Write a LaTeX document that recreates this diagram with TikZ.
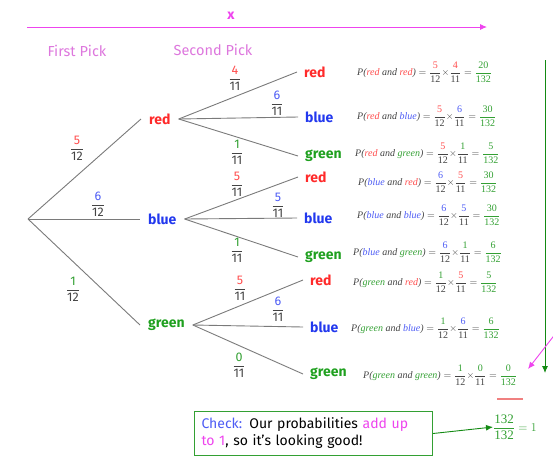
\documentclass[tikz,border=0pt]{standalone}
\usepackage{fontspec}
\usepackage{amsmath}
\setmainfont{Fira Sans}
\newfontfamily\eqfont{Liberation Serif}
\usetikzlibrary{arrows.meta}
\definecolor{cr}{HTML}{FF2A2A}
\definecolor{cb}{HTML}{2238EE}
\definecolor{cg}{HTML}{1FA01F}
\definecolor{lr}{HTML}{FF4C4C}
\definecolor{lb}{HTML}{4D5CF5}
\definecolor{lg}{HTML}{33A033}
\definecolor{tgray}{HTML}{444444}
\definecolor{lgray}{HTML}{7A7A7A}
\definecolor{mag}{HTML}{EE44EE}
\definecolor{hdr}{HTML}{DD77DD}
\definecolor{dgreen}{HTML}{138A13}
\definecolor{salmon}{HTML}{F08080}
\newcommand\tfr[3]{$\genfrac{}{}{0.6pt}{0}{\text{\textcolor{#1}{#2}}}{\text{#3}}$}
\newcommand\efr[4]{$\genfrac{}{}{0.4pt}{0}{\text{\textcolor{#1}{#2}}}{\text{\textcolor{#3}{#4}}}$}
\newcommand\probline[7]{{\itshape P(\textcolor{#1}{#2} and \textcolor{#3}{#4})}${}={}$\efr{#1}{#5}{tgray}{12}$\times$\efr{#3}{#6}{tgray}{11}${}={}$\textcolor{lg}{\efr{lg}{#7}{lg}{132}}}
\begin{document}
\begin{tikzpicture}[x=1pt,y=-1pt,
  branch/.style={draw=lgray, line width=0.9pt},
  first/.style={anchor=west, inner xsep=8pt, inner ysep=2pt, font=\fontsize{14}{16}\selectfont\bfseries},
  leaf/.style={anchor=west, inner xsep=7pt, inner ysep=2pt, font=\fontsize{14}{16}\selectfont\bfseries},
  flab/.style={text=tgray, font=\fontsize{12.5}{14}\selectfont, inner sep=0pt},
  eqn/.style={anchor=west, inner sep=0pt, text=tgray, font=\eqfont\fontsize{10}{12}\selectfont},
  hdrtext/.style={text=hdr, font=\fontsize{14.5}{16}\selectfont}]
\useasboundingbox (0,0) rectangle (553,464);
% top arrow
\node[text=mag, font=\fontsize{14}{15}\selectfont\bfseries] (xlab) at (231,16) {x};
\coordinate (topL) at (27,27);
\coordinate (topR) at (487,27);
\draw[mag, line width=0.9pt, -{Latex[length=7pt,width=6pt]}] (topL) -- (topR);
% headers
\node[hdrtext] (h1) at (77,51) {First Pick};
\node[hdrtext] (h2) at (213,50) {Second Pick};
% tree
\coordinate (root) at (28,219);
\node[first, text=cr] (r1) at (141,119) {red};
\node[first, text=cb] (b1) at (140,219) {blue};
\node[first, text=cg] (g1) at (140,325) {green};
\draw[branch] (root) -- (r1.west);
\draw[branch] (root) -- (b1.west);
\draw[branch] (root) -- (g1.west);
\node[flab] (f1) at (77,148) {\tfr{lr}{5}{12}};
\node[flab] (f2) at (98,204) {\tfr{lb}{6}{12}};
\node[flab] (f3) at (73,289) {\tfr{lg}{1}{12}};
% from red
\node[leaf, text=cr] (rr) at (297,72) {red};
\node[leaf, text=cb] (rb) at (298,117) {blue};
\node[leaf, text=cg] (rg) at (298,156) {green};
\draw[branch] (r1.east) -- (rr.west);
\draw[branch] (r1.east) -- (rb.west);
\draw[branch] (r1.east) -- (rg.west);
\node[flab] (l1) at (235,78) {\tfr{lr}{4}{11}};
\node[flab] (l2) at (277,103) {\tfr{lb}{6}{11}};
\node[flab] (l3) at (237,152) {\tfr{lg}{1}{11}};
% from blue
\node[leaf, text=cr] (br) at (298,177) {red};
\node[leaf, text=cb] (bb) at (297,218) {blue};
\node[leaf, text=cg] (bg) at (298,257) {green};
\draw[branch] (b1.east) -- (br.west);
\draw[branch] (b1.east) -- (bb.west);
\draw[branch] (b1.east) -- (bg.west);
\node[flab] (l4) at (237,184) {\tfr{lr}{5}{11}};
\node[flab] (l5) at (278,205) {\tfr{lb}{5}{11}};
\node[flab] (l6) at (237,250) {\tfr{lg}{1}{11}};
% from green
\node[leaf, text=cr] (gr) at (303,280) {red};
\node[leaf, text=cb] (gb) at (303,327) {blue};
\node[leaf, text=cg] (gg) at (303,374) {green};
\draw[branch] (g1.east) -- (gr.west);
\draw[branch] (g1.east) -- (gb.west);
\draw[branch] (g1.east) -- (gg.west);
\node[flab] (l7) at (240,288) {\tfr{lr}{5}{11}};
\node[flab] (l8) at (278,309) {\tfr{lb}{6}{11}};
\node[flab] (l9) at (239,365) {\tfr{lg}{0}{11}};
% equations
\node[eqn] (e1) at (357,72) {\probline{lr}{red}{lr}{red}{5}{4}{20}};
\node[eqn] (e2) at (357,116) {\probline{lr}{red}{lb}{blue}{5}{6}{30}};
\node[eqn] (e3) at (355,153) {\probline{lr}{red}{lg}{green}{5}{1}{5}};
\node[eqn] (e4) at (358,182) {\probline{lb}{blue}{lr}{red}{6}{5}{30}};
\node[eqn] (e5) at (357,215) {\probline{lb}{blue}{lb}{blue}{6}{5}{30}};
\node[eqn] (e6) at (353,252) {\probline{lb}{blue}{lg}{green}{6}{1}{6}};
\node[eqn] (e7) at (353,282) {\probline{lg}{green}{lr}{red}{1}{5}{5}};
\node[eqn] (e8) at (351,328) {\probline{lg}{green}{lb}{blue}{1}{6}{6}};
\node[eqn] (e9) at (363,375) {\probline{lg}{green}{lg}{green}{1}{0}{0}};
% right-hand arrows
\coordinate (vtop) at (545,60);
\coordinate (vbot) at (545,373);
\draw[dgreen, line width=0.9pt, -{Latex[length=7pt,width=6pt]}] (vtop) -- (vbot);
\coordinate (mstart) at (556,333);
\coordinate (mend) at (528,369);
\draw[mag, line width=0.9pt, -{Latex[length=7pt,width=6pt]}] (mstart) -- (mend);
% sum
\coordinate (sl) at (497,399);
\coordinate (sr) at (523,399);
\draw[salmon, line width=1.5pt] (sl) -- (sr);
\node[anchor=west, inner sep=0pt, text=lg, font=\eqfont\fontsize{13}{15}\selectfont] (sum) at (493,427) {\efr{lg}{132}{lg}{132}${}=1$};
% check box
\node[draw=lg, line width=1pt, fill=white, anchor=north west, minimum width=238pt, minimum height=44pt, text width=224pt, align=left, inner xsep=7pt, font=\fontsize{14}{17}\selectfont] (check) at (194,411)
  {\textcolor{lb}{Check:} Our probabilities \textcolor{mag}{add up}\\\textcolor{mag}{to 1}, so it's looking good!};
\draw[dgreen, line width=0.9pt, -{Latex[length=7pt,width=6pt]}] (check.east) -- (sum.west);
\end{tikzpicture}
\end{document}
